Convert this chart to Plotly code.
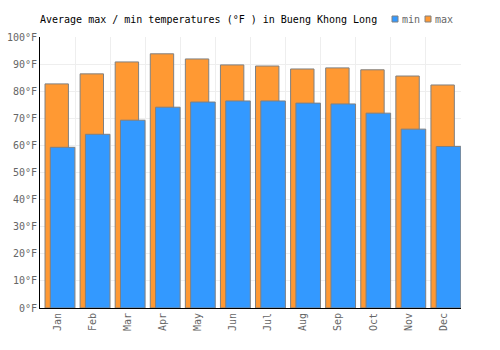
import plotly.graph_objects as go

months = ["Jan", "Feb", "Mar", "Apr", "May", "Jun", "Jul", "Aug", "Sep", "Oct", "Nov", "Dec"]
max_temps = [82.7, 86.4, 90.8, 93.8, 91.9, 89.7, 89.3, 88.2, 88.6, 87.9, 85.6, 82.3]
min_temps = [59.3, 64.1, 69.3, 74.1, 76.0, 76.4, 76.4, 75.6, 75.3, 71.9, 66.0, 59.6]

FONT = "DejaVu Sans Mono"
ORANGE = "#ff9933"
BLUE = "#3399ff"

W, H = 500, 350
L, R, T, B = 40, 39, 37, 42
PW, PH = W - L - R, H - T - B


def px_x(px):
    return (px - L) / PW


def px_y(py):
    return (H - B - py) / PH


fig = go.Figure()
fig.add_trace(go.Bar(
    x=months, y=max_temps, name="max",
    marker=dict(color=ORANGE, line=dict(color="#808080", width=1)),
    offset=-0.357, width=0.667,
))
fig.add_trace(go.Bar(
    x=months, y=min_temps, name="min",
    marker=dict(color=BLUE, line=dict(color="#808080", width=1)),
    offset=-0.206, width=0.70,
))

# legend drawn manually (min, max)
legend_items = [("min", BLUE, 392), ("max", ORANGE, 425)]
for name, color, x0 in legend_items:
    fig.add_shape(type="rect", xref="paper", yref="paper",
                  x0=px_x(x0), x1=px_x(x0 + 6), y0=px_y(22), y1=px_y(16),
                  fillcolor=color, line=dict(color="#808080", width=1))
    fig.add_annotation(xref="paper", yref="paper", x=px_x(x0 + 8), y=px_y(19),
                       xanchor="left", yanchor="middle", text=name, showarrow=False,
                       font=dict(family=FONT, size=10, color="#666666"))

fig.update_layout(
    width=W, height=H,
    margin=dict(l=L, r=R, t=T, b=B, autoexpand=False),
    barmode="overlay",
    plot_bgcolor="white", paper_bgcolor="white",
    font=dict(family=FONT, size=10, color="#666666"),
    title=dict(text="Average max / min temperatures (°F ) in Bueng Khong Long",
               x=0.08, xanchor="left", y=1 - 19 / 350, yanchor="middle",
               font=dict(family=FONT, size=10, color="#000000")),
    showlegend=False,
)
fig.update_xaxes(
    type="category", tickson="boundaries", showgrid=True, gridcolor="#eeeeee", gridwidth=1,
    showline=True, linecolor="#000000", linewidth=1, ticks="", tickangle=-90,
    tickfont=dict(family=FONT, size=10, color="#666666"),
)
fig.update_yaxes(
    range=[0, 100], tick0=0, dtick=10, ticksuffix="°F",
    showgrid=True, gridcolor="#eeeeee", gridwidth=1, zeroline=False,
    showline=True, linecolor="#000000", linewidth=1, ticks="",
    tickfont=dict(family=FONT, size=10, color="#666666"),
)

fig.write_html("out.html")
